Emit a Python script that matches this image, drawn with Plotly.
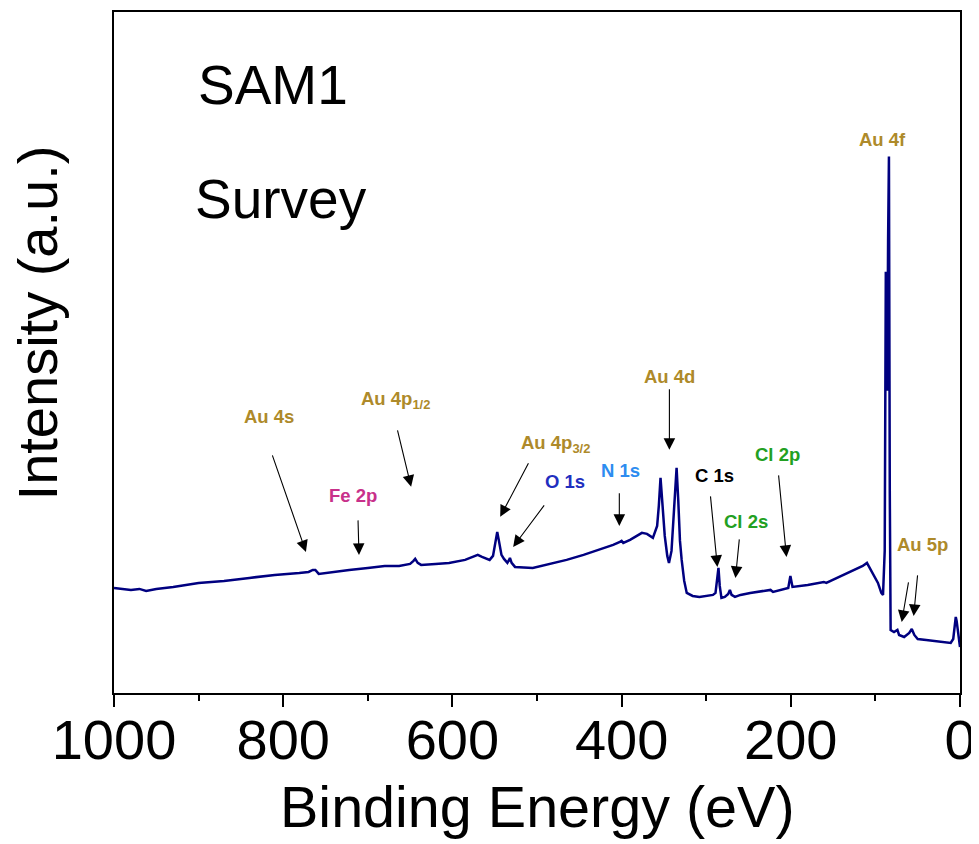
import plotly.graph_objects as go

# ---- data: binding energy (eV) and intensity (a.u.) ----
binding_energy = [1000, 990, 980, 970, 962, 950, 930, 900, 870, 840, 810, 781, 770, 765, 762, 758,
                  750, 722, 700, 680, 663, 650, 646, 644, 641, 637, 620, 604, 585, 570, 565, 556,
                  552, 549, 547, 545, 542, 539, 535, 533, 532, 530, 526, 505, 485, 465, 445, 426,
                  410, 402, 400, 398, 390, 376, 370, 363, 358, 356, 354, 352, 349, 346, 344, 341,
                  338, 335, 333, 331, 329, 326, 323, 316, 308, 292, 289, 287, 285.5, 284, 282, 278,
                  274, 272, 270, 266, 259.5, 248, 224, 221, 210, 203, 200.5, 198, 180, 161, 158, 145,
                  129, 115, 110, 105, 97, 93, 91, 89, 88, 87.7, 86.8, 86, 85, 84, 83, 82.5, 82,
                  78, 74, 72, 66, 60, 57, 54, 50, 40, 31, 20, 11, 8, 6, 5, 4, 2, 0]
intensity = [103, 102, 101, 102, 100, 102, 104, 108, 110, 113, 116, 118, 119, 121, 121, 117,
             118, 121, 123, 125, 125, 127, 130, 132, 128, 126, 127, 128, 131, 136, 134, 131,
             135, 150, 159, 150, 136, 132, 128, 131, 133, 128, 124, 123, 127, 131, 136, 141,
             146, 149, 150, 148, 151, 158, 157, 153, 165, 185, 213, 190, 155, 135, 128, 140,
             180, 223, 190, 150, 131, 110, 98, 95, 94, 96, 98, 115, 123, 105, 93, 94,
             97, 101, 96, 94, 96, 98, 101, 99, 101, 103, 115, 104, 106, 109, 108, 113,
             119, 125, 128, 120, 108, 98, 96, 140, 300, 419, 330, 300, 450, 534, 200, 70, 61,
             59, 61, 56, 54, 58, 62, 56, 52, 51, 50, 49, 48, 52, 70, 74, 70, 55, 44]

# ---- peak labels ----
label_text = ["Au 4s", "Fe 2p", "Au 4p<sub>1/2</sub>", "Au 4p<sub>3/2</sub>", "O 1s", "N 1s",
              "Au 4d", "C 1s", "Cl 2s", "Cl 2p", "Au 4f", "Au 5p"]
label_color = ["#AE8A2A", "#C8308A", "#AE8A2A", "#AE8A2A", "#1F2FBF", "#2D8CF0",
               "#AE8A2A", "#000000", "#22A022", "#22A022", "#AE8A2A", "#AE8A2A"]
label_x = [816.9, 717.5, 667.7, 478.3, 466.5, 401.5, 343.5, 290.3, 252.4, 215.7, 91.4, 44.0]
label_y = [274, 195, 291, 247, 209, 220, 314, 215, 169, 236, 551, 146]

# arrows: tail (x0, y0) -> head (x1, y1)
arrow_x0 = [813.4, 711.6, 665.3, 509.2, 490.2, 402.7, 343.5, 295.1, 260.7, 214.6, 60.6, 50.0]
arrow_y0 = [237, 172, 262, 229, 187, 199, 303, 196, 153, 217, 110, 117]
arrow_x1 = [773.1, 710.4, 648.8, 543.5, 528.2, 402.7, 343.5, 286.8, 265.4, 205.1, 68.9, 54.8]
arrow_y1 = [139, 136, 204, 174, 144, 165, 241, 124, 113, 134, 69, 75]

x_ticks = [1000, 800, 600, 400, 200, 0]

FONT = "Liberation Sans, Arial, sans-serif"

fig = go.Figure()
fig.add_trace(go.Scatter(x=binding_energy, y=intensity, mode="lines",
                         line=dict(color="#000080", width=2.5), showlegend=False,
                         hoverinfo="x+y"))

annotations = []
for t, c, x, y in zip(label_text, label_color, label_x, label_y):
    annotations.append(dict(x=x, y=y, xref="x", yref="y", text=f"<b>{t}</b>", showarrow=False,
                            font=dict(family=FONT, size=18.5, color=c)))
for x0, y0, x1, y1 in zip(arrow_x0, arrow_y0, arrow_x1, arrow_y1):
    annotations.append(dict(x=x1, y=y1, ax=x0, ay=y0, xref="x", yref="y", axref="x", ayref="y",
                            text="", showarrow=True, arrowhead=2, arrowsize=2.1, arrowwidth=1.1,
                            arrowcolor="black", standoff=0, startstandoff=0))
annotations.append(dict(x=0.097, y=0.893, xref="paper", yref="paper", text="SAM1", showarrow=False,
                        xanchor="left", yanchor="middle", font=dict(family=FONT, size=55, color="black")))
annotations.append(dict(x=0.093, y=0.726, xref="paper", yref="paper", text="Survey", showarrow=False,
                        xanchor="left", yanchor="middle", font=dict(family=FONT, size=55, color="black")))
annotations.append(dict(x=-0.09, y=0.544, xref="paper", yref="paper", text="Intensity (a.u.)",
                        showarrow=False, textangle=-90, xanchor="center", yanchor="middle",
                        font=dict(family=FONT, size=56, color="black")))
annotations.append(dict(x=0.5, y=-0.168, xref="paper", yref="paper", text="Binding Energy (eV)",
                        showarrow=False, xanchor="center", yanchor="middle",
                        font=dict(family=FONT, size=57.5, color="black")))

# the page body has an 8 px default margin, so the figure is sized/offset to compensate
fig.update_layout(
    width=971, height=836,
    margin=dict(l=106, r=19, t=4, b=151, autoexpand=False),
    paper_bgcolor="white", plot_bgcolor="white",
    font=dict(family=FONT, color="black"),
    annotations=annotations,
    xaxis=dict(range=[1000, 0], tickvals=x_ticks, ticktext=[str(v) for v in x_ticks],
               ticks="outside", ticklen=12, tickwidth=1.5, tickcolor="black",
               minor=dict(dtick=100, ticks="outside", ticklen=6, tickwidth=1.5, tickcolor="black"),
               showline=True, linecolor="black", linewidth=2, mirror=True,
               showgrid=False, zeroline=False, automargin=False, ticklabelstandoff=-15,
               tickfont=dict(family=FONT, size=56, color="black")),
    yaxis=dict(range=[-2, 678.5], showticklabels=False, ticks="",
               showline=True, linecolor="black", linewidth=2, mirror=True,
               showgrid=False, zeroline=False, automargin=False),
)

fig.write_html("out.html")
